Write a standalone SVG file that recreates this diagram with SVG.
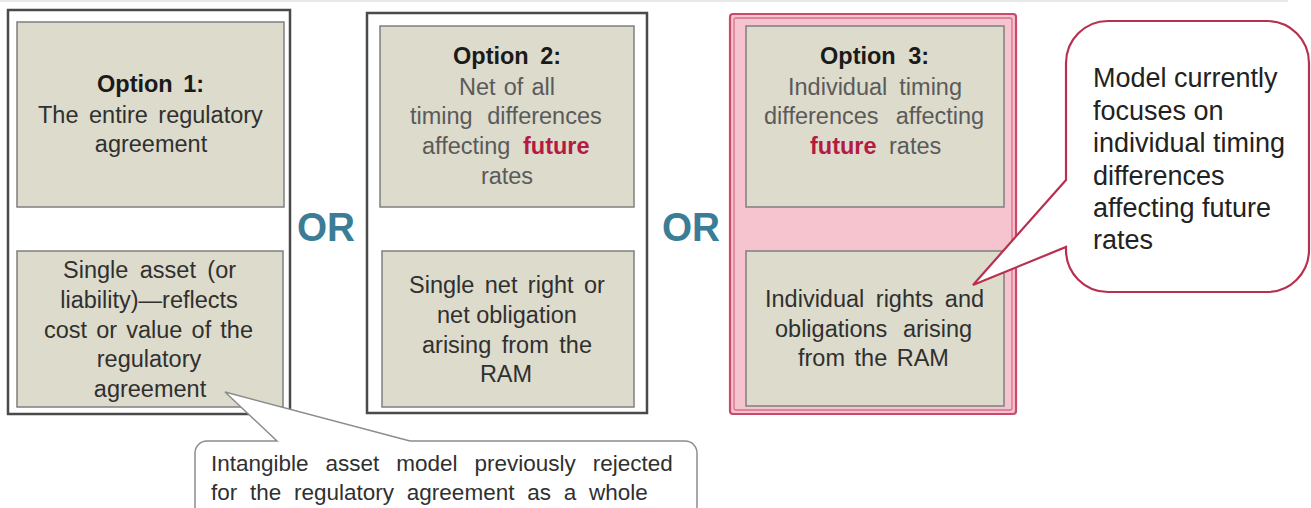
<svg xmlns="http://www.w3.org/2000/svg" width="1311" height="508" viewBox="0 0 1311 508">
<style>
  text { font-family: "Liberation Sans", Arial, sans-serif; }
  .outer { fill: #ffffff; stroke: #4a4a4a; stroke-width: 2.5; }
  .inner { fill: #dddbcc; stroke: #7f7f7f; stroke-width: 1.5; }
  .t { font-size: 23.5px; fill: #303030; }
  .tg { font-size: 23.5px; fill: #5a5a5a; }
  .hd { font-size: 23.5px; font-weight: bold; fill: #1a1a1a; }
  .fut { font-size: 23.5px; font-weight: bold; fill: #b41a43; }
  .or { font-size: 40px; font-weight: bold; fill: #3b7d97; }
  .bub { font-size: 27px; fill: #222222; }
  .note { font-size: 22.5px; fill: #303030; }
</style>
<rect width="1311" height="508" fill="#ffffff"/>
<line x1="0" y1="1" x2="1288" y2="1" stroke="#e8e8e8" stroke-width="2"/>

<g id="option1">
  <rect class="outer" x="8" y="10" width="282" height="404"/>
  <rect class="inner" x="17" y="22" width="267" height="185"/>
  <text class="hd" x="97" y="92" word-spacing="4">Option 1:</text>
  <text class="t" x="38" y="123" word-spacing="4">The entire regulatory</text>
  <text class="t" x="151" y="152" text-anchor="middle">agreement</text>
  <rect class="inner" x="17" y="251" width="266" height="156"/>
  <text class="t" x="63" y="278" word-spacing="4.9">Single asset (or</text>
  <text class="t" x="149" y="308" text-anchor="middle">liability)—reflects</text>
  <text class="t" x="44" y="338" word-spacing="2.6">cost or value of the</text>
  <text class="t" x="149" y="367" text-anchor="middle">regulatory</text>
  <text class="t" x="150" y="397" text-anchor="middle">agreement</text>
</g>

<g id="or1">
  <text class="or" x="297" y="241" textLength="58" lengthAdjust="spacingAndGlyphs">OR</text>
</g>

<g id="option2">
  <rect class="outer" x="367" y="13" width="280" height="400"/>
  <rect class="inner" x="380" y="26" width="254" height="181"/>
  <text class="hd" x="453" y="64" word-spacing="5">Option 2:</text>
  <text class="tg" x="459" y="95" word-spacing="1.6">Net of all</text>
  <text class="tg" x="410" y="124" word-spacing="8">timing differences</text>
  <text class="tg" x="422" y="154">affecting</text>
  <text class="fut" x="523" y="154">future</text>
  <text class="tg" x="507" y="184" text-anchor="middle">rates</text>
  <rect class="inner" x="382" y="251" width="252" height="156"/>
  <text class="t" x="409" y="293" word-spacing="3.9">Single net right or</text>
  <text class="t" x="437" y="323">net obligation</text>
  <text class="t" x="422" y="353" word-spacing="4">arising from the</text>
  <text class="t" x="506" y="382" text-anchor="middle">RAM</text>
</g>

<g id="or2">
  <text class="or" x="662" y="241" textLength="58" lengthAdjust="spacingAndGlyphs">OR</text>
</g>

<g id="option3">
  <rect x="730" y="14" width="286" height="400" rx="3" fill="#f6c4cf" stroke="#c94a6b" stroke-width="2.2"/>
  <rect x="734" y="18" width="278" height="392" rx="2" fill="none" stroke="#d8708a" stroke-width="1.3"/>
  <rect class="inner" x="746" y="26" width="258" height="181"/>
  <text class="hd" x="820" y="64" word-spacing="6">Option 3:</text>
  <text class="tg" x="788" y="95" word-spacing="5.5">Individual timing</text>
  <text class="tg" x="764" y="124" word-spacing="10.7">differences affecting</text>
  <text class="fut" x="810" y="154">future</text>
  <text class="tg" x="889" y="154">rates</text>
  <rect class="inner" x="746" y="251" width="258" height="155"/>
  <text class="t" x="765" y="307" word-spacing="5">Individual rights and</text>
  <text class="t" x="775" y="337" word-spacing="9">obligations arising</text>
  <text class="t" x="798" y="366" word-spacing="3">from the RAM</text>
</g>

<g id="callout-model">
  <path d="M 1108,21 H 1267 A 42 42 0 0 1 1309,63 V 250 A 42 42 0 0 1 1267,292 H 1108 A 42 42 0 0 1 1066,250 V 247 L 973,285 L 1066,180 V 63 A 42 42 0 0 1 1108,21 Z" fill="#ffffff" stroke="#b8304f" stroke-width="2.2" stroke-linejoin="miter"/>
  <text class="bub" x="1093" y="87">Model currently</text>
  <text class="bub" x="1093" y="119.5">focuses on</text>
  <text class="bub" x="1093" y="152">individual timing</text>
  <text class="bub" x="1093" y="184.5">differences</text>
  <text class="bub" x="1093" y="217">affecting future</text>
  <text class="bub" x="1093" y="249">rates</text>
</g>

<g id="callout-intangible">
  <path d="M 207,441 H 277 L 225,392 L 410,441 H 685 A 12 12 0 0 1 697,453 V 516 H 195 V 453 A 12 12 0 0 1 207,441 Z" fill="#ffffff" stroke="#8c8c8c" stroke-width="1.5"/>
  <text class="note" x="211" y="471" word-spacing="10.7">Intangible asset model previously rejected</text>
  <text class="note" x="211" y="500" word-spacing="6.5">for the regulatory agreement as a whole</text>
</g>
</svg>
